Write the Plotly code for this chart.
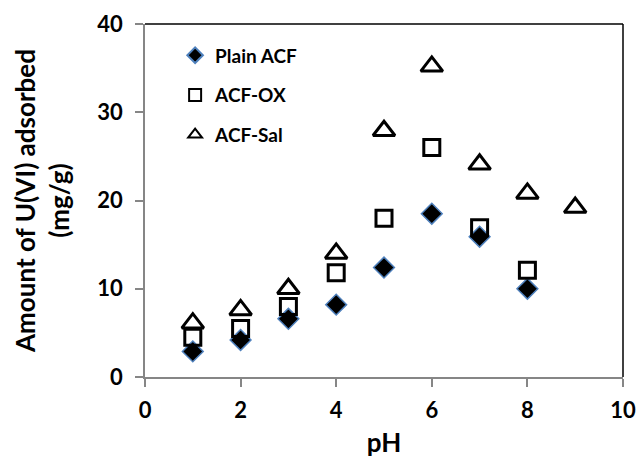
import plotly.graph_objects as go

# pH of the uranyl solution
ph_plain = [1, 2, 3, 4, 5, 6, 7, 8]
ph_ox = [1, 2, 3, 4, 5, 6, 7, 8]
ph_sal = [1, 2, 3, 4, 5, 6, 7, 8, 9]

# Amount of U(VI) adsorbed (mg/g)
plain_acf = [2.9, 4.2, 6.6, 8.2, 12.4, 18.5, 15.9, 10.0]
acf_ox = [4.5, 5.5, 8.0, 11.8, 18.0, 26.0, 16.9, 12.1]
acf_sal = [6.1, 7.6, 10.0, 14.0, 27.9, 35.2, 24.1, 20.8, 19.2]

x_ticks = [0, 2, 4, 6, 8, 10]
y_ticks = [0, 10, 20, 30, 40]

FONT = "Lato"
AXIS_GREY = "#868686"

fig = go.Figure()

fig.add_trace(go.Scatter(
    x=ph_plain, y=plain_acf, mode="markers", name="Plain ACF",
    legendgroup="a",
    marker=dict(symbol="diamond", size=16, color="black",
                line=dict(color="#4F81BD", width=1.5)),
))
fig.add_trace(go.Scatter(
    x=ph_ox, y=acf_ox, mode="markers", name="ACF-OX",
    legendgroup="b",
    marker=dict(symbol="square-open", size=16, color="black",
                line=dict(color="black", width=3)),
))
fig.add_trace(go.Scatter(
    x=ph_sal, y=acf_sal, mode="markers", name="ACF-Sal",
    legendgroup="c",
    marker=dict(symbol="triangle-up-open", size=19, color="black",
                line=dict(color="black", width=3)),
))

axis_common = dict(
    showgrid=False, zeroline=False, showline=True, automargin=False,
    linecolor=AXIS_GREY, linewidth=1.5,
    ticks="outside", ticklen=8, tickwidth=1.5, tickcolor=AXIS_GREY,
    tickfont=dict(family=FONT, size=22, color="black", weight="bold"),
)

fig.update_layout(
    width=638, height=465,
    margin=dict(l=145, r=15, t=24, b=88),
    paper_bgcolor="white", plot_bgcolor="white",
    font=dict(family=FONT, color="black"),
    xaxis=dict(
        range=[0, 10], tickvals=x_ticks, ticklabelstandoff=5,
        title=dict(text="pH", standoff=12,
                   font=dict(family=FONT, size=26, color="black", weight="bold")),
        **axis_common,
    ),
    yaxis=dict(
        range=[0, 40], tickvals=y_ticks, ticklabelstandoff=8,
        title=dict(text="Amount of U(VI) adsorbed<br>(mg/g)", standoff=20,
                   font=dict(family=FONT, size=26, color="black", weight="bold")),
        **axis_common,
    ),
    legend=dict(
        x=0.063, y=0.965, xanchor="left", yanchor="top",
        bgcolor="rgba(0,0,0,0)", borderwidth=0,
        traceorder="grouped", tracegroupgap=12, itemsizing="constant",
        font=dict(family=FONT, size=19, color="black", weight="bold"),
    ),
    shapes=[
        dict(type="line", xref="paper", yref="paper", x0=0, x1=1, y0=1, y1=1,
             line=dict(color="black", width=1.5)),
        dict(type="line", xref="paper", yref="paper", x0=1, x1=1, y0=0, y1=1,
             line=dict(color="black", width=1.5)),
    ],
)

fig.write_html("out.html")
